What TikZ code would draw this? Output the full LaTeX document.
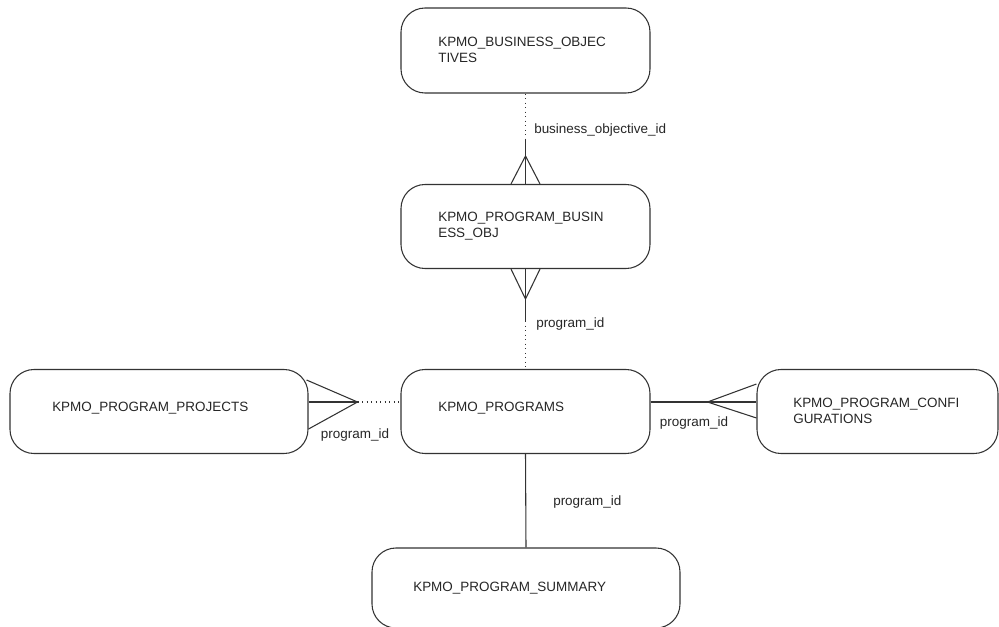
\documentclass[tikz,border=0pt]{standalone}
\usepackage{fontspec}
\setmainfont{Liberation Sans}
\usetikzlibrary{calc}
\tikzset{
    entity/.style={draw=black!80, line width=0.8pt, rounded corners=18pt, inner sep=0pt, minimum height=63pt},
    ename/.style={anchor=west, align=left, inner sep=0pt, text=black!85, font=\fontsize{10.1}{12}\selectfont},
    fkey/.style={inner sep=0pt, text=black!85, font=\fontsize{10.1}{12}\selectfont},
    link/.style={draw=black!80, line width=0.8pt},
    optional/.style={link, dash pattern=on 0.8pt off 2.6pt}
}
\begin{document}
\begin{tikzpicture}[x=0.75pt, y=-0.75pt]
    \useasboundingbox (0,0) rectangle (999,627);
    \clip (0,0) rectangle (999,627);

    % Entities
    \node[entity, minimum width=186.75pt, minimum height=63.75pt] (bo) at (525.5,50.5) {};
    \node[ename] (bo-t) at (438,50) {KPMO\_BUSINESS\_OBJEC\\TIVES};

    \node[entity, minimum width=186.75pt] (pbo) at (525.5,226.5) {};
    \node[ename] (pbo-t) at (438,226.5) {KPMO\_PROGRAM\_BUSIN\\ESS\_OBJ};

    \node[entity, minimum width=186.75pt] (prog) at (525.5,411.5) {};
    \node[ename] (prog-t) at (438,408) {KPMO\_PROGRAMS};

    \node[entity, minimum width=223.5pt] (proj) at (159,411.5) {};
    \node[ename] (proj-t) at (52,408) {KPMO\_PROGRAM\_PROJECTS};

    \node[entity, minimum width=180.75pt] (conf) at (877.5,411.5) {};
    \node[ename] (conf-t) at (793,411) {KPMO\_PROGRAM\_CONFI\\GURATIONS};

    \node[entity, minimum width=231pt, minimum height=60pt] (summ) at (526,588) {};
    \node[ename] (summ-t) at (413,588) {KPMO\_PROGRAM\_SUMMARY};

    % Business objectives -> program business obj
    \draw[optional] (bo.south) -- ++(0,45) coordinate (c1);
    \draw[link] (c1) -- (pbo.north);
    \draw[link] ($(pbo.north)+(-14.5,0)$) -- ($(pbo.north)+(0,-28)$) -- ($(pbo.north)+(14.5,0)$);
    \node[fkey, anchor=west] (l1) at (534,130) {business\_objective\_id};

    % Program business obj -> programs
    \draw[link] (pbo.south) -- ++(0,52) coordinate (c2);
    \draw[optional] (c2) -- (prog.north);
    \draw[link] ($(pbo.south)+(-14.5,0)$) -- ($(pbo.south)+(0,30)$) -- ($(pbo.south)+(14.5,0)$);
    \node[fkey, anchor=west] (l2) at (536,324) {program\_id};

    % Projects -- programs
    \coordinate (row) at (0,402);
    \draw[link] (proj.east |- row) -- ++(49,0) coordinate (c3);
    \draw[optional] (c3) -- (prog.west |- row);
    \draw[link] ($(proj.east |- row)+(-2,-22)$) -- (c3) -- ($(proj.east |- row)+(0,27)$);
    \node[fkey] (l3) at (355,435) {program\_id};

    % Programs -- configurations
    \draw[link] (prog.east |- row) -- (conf.west |- row);
    \draw[link] ($(conf.west |- row)+(0,-18)$) -- ++(-49,18) coordinate (c4) -- ($(conf.west |- row)+(0,16)$);
    \node[fkey] (l4) at (694,423) {program\_id};

    % Programs -- summary
    \draw[link] (prog.south) -- (summ.north);
    \node[fkey, anchor=west] (l5) at (553,502) {program\_id};
\end{tikzpicture}
\end{document}
